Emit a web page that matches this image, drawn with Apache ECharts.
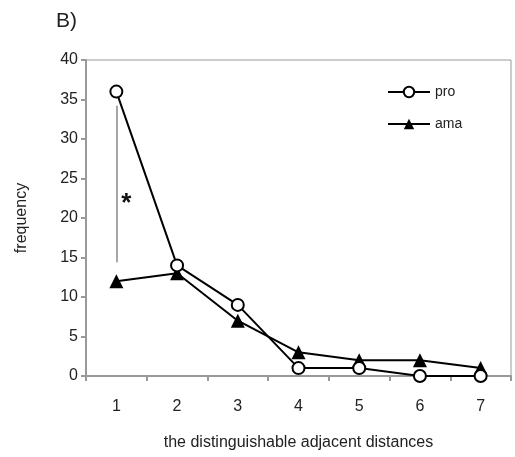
<!DOCTYPE html>
<html>
<head>
<meta charset="utf-8">
<script src="https://cdn.jsdelivr.net/npm/echarts@6/dist/echarts.min.js"></script>
<style>
  html, body { margin: 0; padding: 0; background: #fff; }
  #chart { width: 515px; height: 457px; }
</style>
</head>
<body>
<div id="chart"></div>
<script>
// data
var categories = ['1', '2', '3', '4', '5', '6', '7'];
var proValues = [36, 14, 9, 1, 1, 0, 0];
var amaValues = [12, 13, 7, 3, 2, 2, 1];
var yTicks = [0, 5, 10, 15, 20, 25, 30, 35, 40];
var sigRange = [34.2, 14.4];   // vertical bar at category 1
var sigStar = 22.5;

var font = 'Liberation Sans, Arial, sans-serif';
var myChart = echarts.init(document.getElementById('chart'));

var option = {
    animation: false,
    title: {
        text: 'B)',
        left: 51,
        top: 6,
        textStyle: { fontFamily: font, fontSize: 21, fontWeight: 'normal', color: '#222' }
    },
    grid: {
        left: 86,
        right: 4,
        top: 60,
        bottom: 81,
        show: true,
        borderColor: '#999',
        borderWidth: 1
    },
    legend: {
        orient: 'vertical',
        left: 382,
        top: 80,
        itemWidth: 42,
        itemHeight: 13,
        itemGap: 18,
        textStyle: { fontFamily: font, fontSize: 14, color: '#222' },
        data: ['pro', 'ama']
    },
    xAxis: {
        type: 'category',
        data: categories,
        boundaryGap: true,
        name: 'the distinguishable adjacent distances',
        nameLocation: 'middle',
        nameGap: 59,
        nameTextStyle: { fontFamily: font, fontSize: 16, color: '#222' },
        axisLine: { lineStyle: { color: '#999', width: 2 } },
        axisTick: { show: true, length: 5, lineStyle: { color: '#999', width: 2 } },
        axisLabel: { fontFamily: font, fontSize: 16, color: '#222', margin: 23 },
        splitLine: { show: false }
    },
    yAxis: {
        type: 'value',
        min: 0,
        max: 40,
        interval: 5,
        name: 'frequency',
        nameLocation: 'middle',
        nameGap: 56,
        nameTextStyle: { fontFamily: font, fontSize: 16, color: '#222' },
        axisLine: { show: true, lineStyle: { color: '#999', width: 2 } },
        axisTick: { show: true, length: 5, lineStyle: { color: '#999', width: 2 } },
        axisLabel: {
            fontFamily: font, fontSize: 16, color: '#222', margin: 8,
            formatter: function (v) { return yTicks.indexOf(v) >= 0 ? v : ''; }
        },
        splitLine: { show: false }
    },
    series: [{
        name: 'pro',
        type: 'line',
        data: proValues,
        symbol: 'circle',
        symbolSize: 12,
        lineStyle: { color: '#000', width: 2 },
        itemStyle: { color: '#fff', borderColor: '#000', borderWidth: 2 },
        z: 3,
        markLine: {
            silent: true,
            symbol: 'none',
            lineStyle: { color: '#888', width: 1.5, type: 'solid' },
            label: { show: false },
            data: [[
                { coord: [categories[0], sigRange[0]] },
                { coord: [categories[0], sigRange[1]] }
            ]]
        },
        markPoint: {
            silent: true,
            symbol: 'circle',
            symbolSize: 0,
            label: {
                show: true,
                formatter: '*',
                offset: [10, 6],
                fontFamily: font,
                fontSize: 26,
                fontWeight: 'bold',
                color: '#111'
            },
            data: [{ coord: [categories[0], sigStar] }]
        }
    }, {
        name: 'ama',
        type: 'line',
        data: amaValues,
        symbol: 'triangle',
        symbolSize: 14,
        lineStyle: { color: '#000', width: 2 },
        itemStyle: { color: '#000' },
        z: 2
    }]
};

myChart.setOption(option);
window.addEventListener('resize', function () { myChart.resize(); });
</script>
</body>
</html>
